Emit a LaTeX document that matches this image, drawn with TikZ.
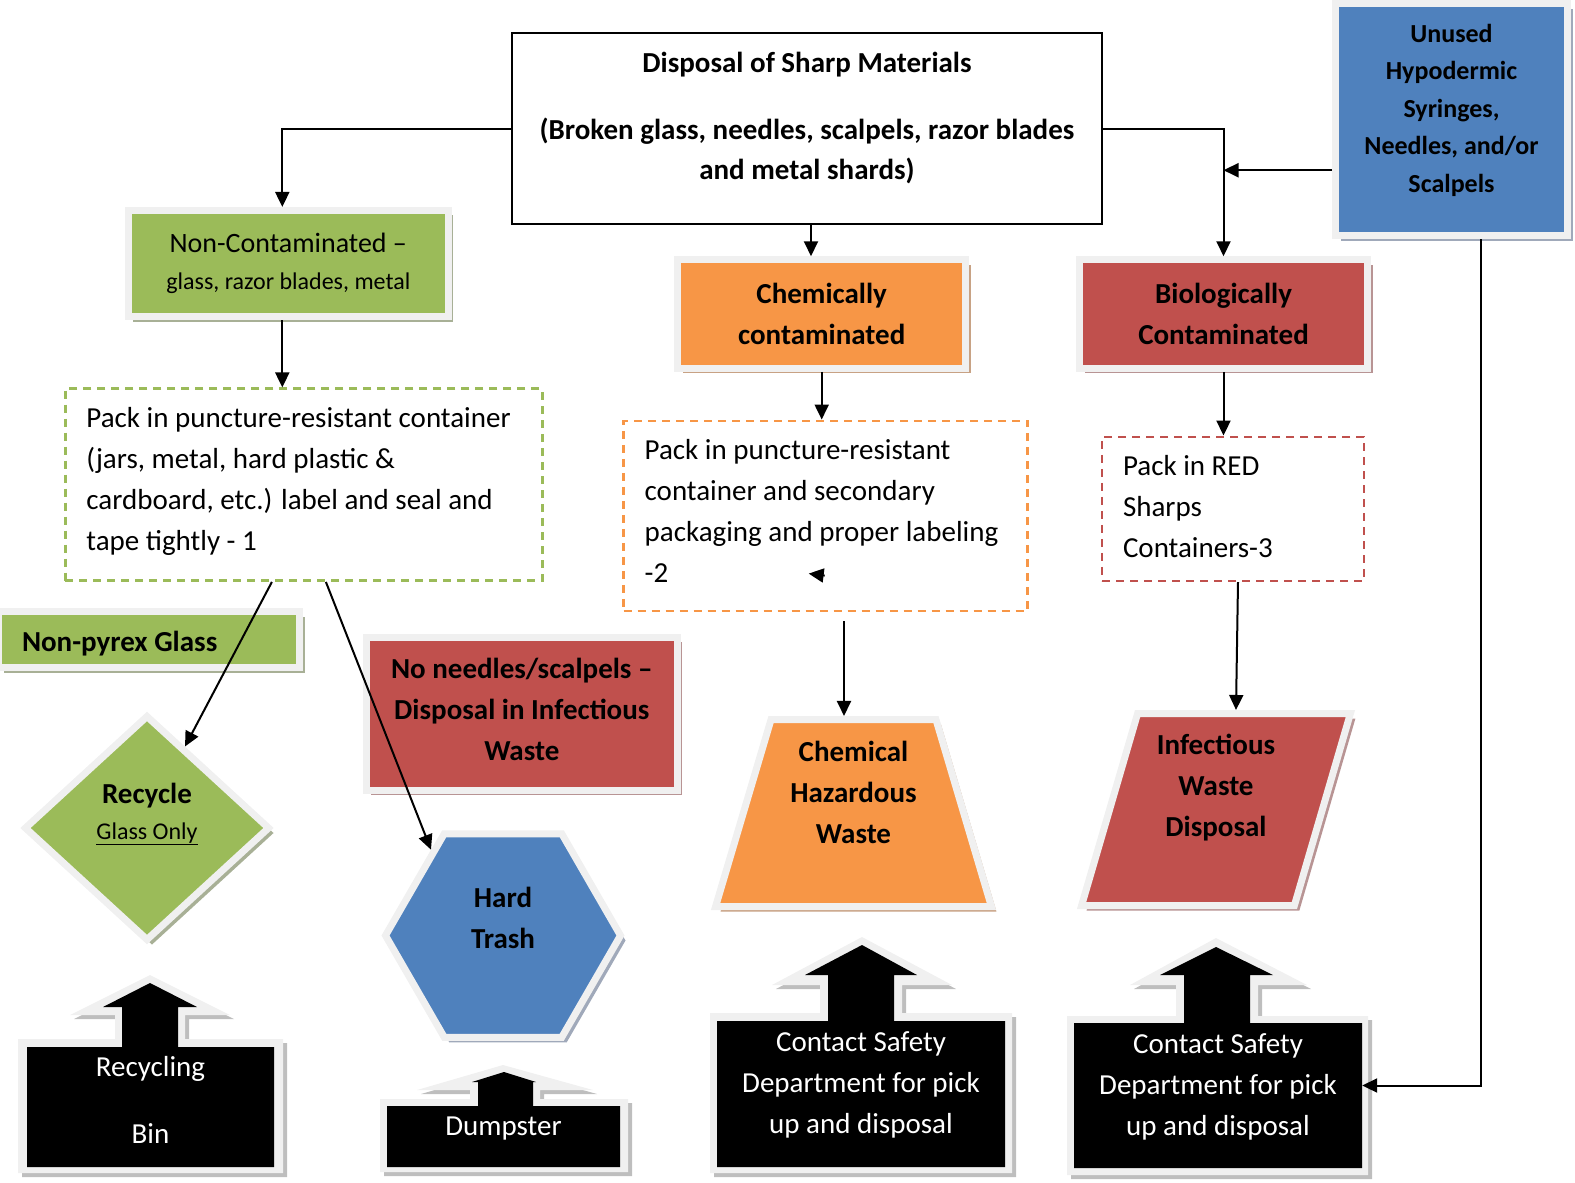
\documentclass[tikz,border=0pt]{standalone}
\usepackage{fontspec}
\setmainfont{Carlito}
\usetikzlibrary{shapes,shadows,arrows.meta}
\definecolor{grn}{HTML}{9BBB59}
\definecolor{org}{HTML}{F79646}
\definecolor{rd}{HTML}{C0504D}
\definecolor{blu}{HTML}{4F81BD}
\definecolor{lite}{HTML}{F0F0F0}
\definecolor{grnsh}{HTML}{A8B096}
\definecolor{orgsh}{HTML}{C8A284}
\definecolor{rdsh}{HTML}{B89494}
\definecolor{blush}{HTML}{A0A9BA}
\definecolor{callsh}{HTML}{BEBEBE}

\begin{document}
\begin{tikzpicture}[x=1pt,y=-1pt,font=\fontsize{29}{41}\selectfont]
\useasboundingbox (0,0) rectangle (1575,1183);
\tikzstyle{bftext}=[font=\fontsize{29}{41}\selectfont\bfseries]
\tikzstyle{lite}=[draw=lite,line width=7pt,inner sep=0pt,align=center]
\tikzstyle{gbox}=[lite,fill=grn,drop shadow={shadow xshift=5pt,shadow yshift=-5pt,fill=grnsh,opacity=1}]
\tikzstyle{obox}=[lite,fill=org,drop shadow={shadow xshift=5pt,shadow yshift=-5pt,fill=orgsh,opacity=1}]
\tikzstyle{rbox}=[lite,fill=rd,drop shadow={shadow xshift=5pt,shadow yshift=-5pt,fill=rdsh,opacity=1}]
\tikzstyle{bbox}=[lite,fill=blu,drop shadow={shadow xshift=5pt,shadow yshift=-5pt,fill=blush,opacity=1}]
\tikzstyle{dbox}=[line width=2.5pt,dash pattern=on 8pt off 6pt,inner xsep=21pt,inner ysep=0pt,align=flush left]
\tikzstyle{ttl}=[draw,line width=1.6pt,inner sep=0pt,align=center,font=\fontsize{29}{40}\selectfont\bfseries]
\tikzstyle{callrim}=[fill=lite,drop shadow={shadow xshift=4pt,shadow yshift=-4pt,fill=callsh,opacity=1}]
\tikzstyle{cbox}=[text=white,inner sep=0pt,align=center]
\tikzstyle{arr}=[-{Triangle[length=15pt,width=14pt]},line width=2pt]

% callout shapes under the black boxes
\path[callrim] (18,1039) -- (115,1039) -- (115,1015) -- (70,1015) -- (150,975) -- (230,1015) -- (185,1015) -- (185,1039) -- (283,1039) -- (283,1173) -- (18,1173) -- cycle;
\fill (27,1047) -- (122,1047) -- (122,1007) -- (103,1007) -- (150,983) -- (197,1007) -- (178,1007) -- (178,1047) -- (274,1047) -- (274,1167) -- (27,1167) -- cycle;
\path[callrim] (380,1099) -- (470,1099) -- (470,1090) -- (417,1090) -- (503,1065) -- (593,1090) -- (540,1090) -- (540,1099) -- (628,1099) -- (628,1172) -- (380,1172) -- cycle;
\fill (387,1106) -- (478,1106) -- (478,1082) -- (472,1082) -- (504,1072) -- (536,1082) -- (533,1082) -- (533,1106) -- (620,1106) -- (620,1167) -- (387,1167) -- cycle;
\path[callrim] (710,1013) -- (820,1013) -- (820,985) -- (772,985) -- (862,937) -- (952,985) -- (902,985) -- (902,1013) -- (1012,1013) -- (1012,1173) -- (710,1173) -- cycle;
\fill (717,1021) -- (828,1021) -- (828,975) -- (805,975) -- (862,945) -- (917,975) -- (894,975) -- (894,1021) -- (1005,1021) -- (1005,1167) -- (717,1167) -- cycle;
\path[callrim] (1067,1016) -- (1176,1016) -- (1176,985) -- (1130,985) -- (1216,938) -- (1307,985) -- (1258,985) -- (1258,1016) -- (1368,1016) -- (1368,1175) -- (1067,1175) -- cycle;
\fill (1074,1023) -- (1184,1023) -- (1184,975) -- (1160,975) -- (1216,947) -- (1273,975) -- (1250,975) -- (1250,1023) -- (1362,1023) -- (1362,1168) -- (1074,1168) -- cycle;

% top row
\node[ttl,minimum width=590pt,minimum height=191pt,text depth=26pt] (title) at (807,128.6) {Disposal of Sharp Materials\\[27pt](Broken glass, needles, scalpels, razor blades\\and metal shards)};
\node[bbox,minimum width=232pt,minimum height=232pt,font=\fontsize{26}{37.5}\selectfont\bfseries,text depth=23pt] (unused) at (1451.5,119.5) {Unused\\Hypodermic\\Syringes,\\Needles, and/or\\Scalpels};
\node[gbox,minimum width=320pt,minimum height=106.5pt,font=\fontsize{28}{37}\selectfont] (noncont) at (288.3,263.7) {Non-Contaminated –\\{\fontsize{24}{37}\selectfont glass, razor blades, metal}};
\node[obox,bftext,minimum width=288pt,minimum height=108.5pt] (chemcont) at (821.7,314) {Chemically\\contaminated};
\node[rbox,bftext,minimum width=288pt,minimum height=108.5pt] (biocont) at (1223.5,314) {Biologically\\Contaminated};

% packing steps
\node[dbox,draw=grn,minimum width=477pt,minimum height=192pt,text width=435pt,text depth=134pt] (packnc) at (303.9,484.7) {Pack in puncture-resistant container\\(jars, metal, hard plastic \&\\cardboard, etc.) label and seal and\\tape tightly - 1};
\node[dbox,draw=org,minimum width=404pt,minimum height=190pt,text width=362pt,text depth=132pt] (packchem) at (825.7,515.8) {Pack in puncture-resistant\\container and secondary\\packaging and proper labeling\\-2};
\node[dbox,draw=rd,minimum width=262pt,minimum height=144pt,text width=220pt,text depth=86pt] (packbio) at (1233,508.8) {Pack in RED\\Sharps\\Containers-3};

% end points
\node[gbox,bftext,minimum width=301pt,minimum height=56pt,text width=254pt,inner xsep=23.5pt,align=flush left,text height=31pt,text depth=7pt] (nopyrex) at (149,639.5) {Non-pyrex Glass};
\node[rbox,bftext,minimum width=311pt,minimum height=153pt,text depth=8pt] (noneedle) at (521.8,713.7) {No needles/scalpels –\\Disposal in Infectious\\Waste};
\node[gbox,diamond,minimum width=246pt,minimum height=226pt,text depth=34pt] (recycle) at (147,828) {\textbf{Recycle}\\[-5pt]{\fontsize{24}{30}\selectfont\underline{Glass Only}}};
\node[bbox,bftext,regular polygon,regular polygon sides=6,minimum size=235pt,text depth=36pt] (hardtrash) at (503,935.5) {Hard\\Trash};
\node[obox,bftext,trapezium,trapezium left angle=73.6,trapezium right angle=73.6,trapezium stretches=true,minimum width=276pt,minimum height=187pt,text depth=42pt] (chemwaste) at (853.5,813) {Chemical\\Hazardous\\Waste};
\node[rbox,bftext,trapezium,trapezium left angle=74.3,trapezium right angle=105.7,trapezium stretches=true,minimum width=269pt,minimum height=192pt,text depth=48pt] (infwaste) at (1216,809.5) {Infectious\\Waste\\Disposal};

% callout texts
\node[cbox,minimum width=247pt,minimum height=120pt,text depth=14pt] (recbin) at (150.5,1107) {Recycling\\[26pt]Bin};
\node[cbox,minimum width=233pt,minimum height=61pt,text depth=20pt] (dumpster) at (503.5,1136.5) {Dumpster};
\node[cbox,minimum width=288pt,minimum height=146pt,text depth=23pt] (chemcall) at (861,1094) {Contact Safety\\Department for pick\\up and disposal};
\node[cbox,minimum width=288pt,minimum height=145pt,text depth=22pt] (biocall) at (1218,1095.5) {Contact Safety\\Department for pick\\up and disposal};

% connectors
\draw[arr] (title.west) -| ([xshift=-6pt]noncont.north);
\draw[arr] ([xshift=4pt]title.south) -- ([xshift=4pt]title.south |- chemcont.north);
\draw[arr] (title.east) -| (biocont.north);
\draw[arr] (unused.203) -- (unused.203 -| biocont.north);
\draw[arr] (unused.284) |- ([yshift=10pt]biocall.east);
\draw[arr] ([xshift=-6pt]noncont.south) -- ([xshift=-6pt]noncont.south |- packnc.north);
\draw[arr] (chemcont.south) -- (chemcont.south |- packchem.north);
\draw[arr] (biocont.south) -- (biocont.south |- packbio.north);
\draw[arr] ([xshift=-32pt]packnc.south) -- (recycle.65);
\draw[arr] ([xshift=22pt]packnc.south) -- (hardtrash.130);
\coordinate (chemgap) at (844,621);
\draw[arr] (chemgap) -- (chemgap |- chemwaste.north);
\draw[arr] ([xshift=5pt]packbio.south) -- ([xshift=20pt]infwaste.north);
\coordinate (stray) at (824.7,575.6);
\draw[arr] (stray) -- ++(-16,-2);
\end{tikzpicture}
\end{document}
